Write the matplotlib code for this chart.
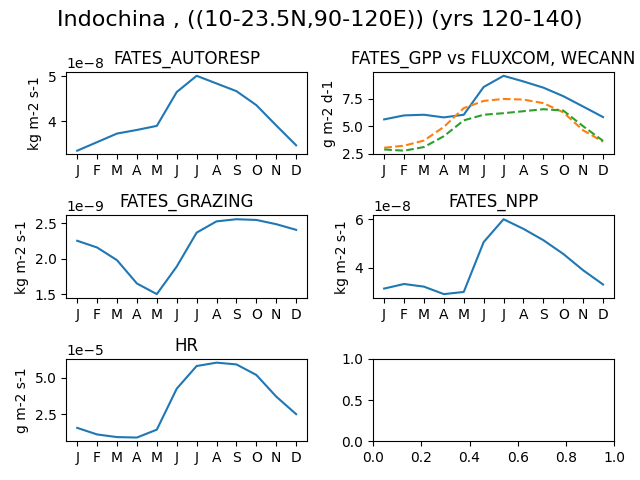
import matplotlib
matplotlib.use("Agg")
import matplotlib.pyplot as plt
import numpy as np

months = ["J", "F", "M", "A", "M", "J", "J", "A", "S", "O", "N", "D"]

# 月平均值
autoresp = np.array([3.35, 3.54, 3.73, 3.81, 3.90, 4.65, 5.01, 4.84, 4.67, 4.36, 3.91, 3.47]) * 1e-8
gpp_fates = [5.62, 5.98, 6.04, 5.80, 6.04, 8.55, 9.56, 9.05, 8.49, 7.72, 6.78, 5.83]
gpp_fluxcom = [3.06, 3.24, 3.71, 4.94, 6.64, 7.29, 7.47, 7.41, 7.09, 6.26, 4.63, 3.60]
gpp_wecann = [2.90, 2.79, 3.12, 4.10, 5.53, 6.04, 6.18, 6.36, 6.54, 6.42, 5.00, 3.68]
grazing = np.array([2.255, 2.16, 1.98, 1.65, 1.50, 1.89, 2.37, 2.53, 2.56, 2.55, 2.49, 2.41]) * 1e-9
npp = np.array([3.13, 3.32, 3.21, 2.90, 2.99, 5.06, 6.01, 5.61, 5.14, 4.57, 3.89, 3.30]) * 1e-8
hr = np.array([1.58, 1.13, 0.95, 0.92, 1.46, 4.26, 5.81, 6.04, 5.92, 5.20, 3.72, 2.52]) * 1e-5

x = np.arange(12)

fig, axes = plt.subplots(3, 2, figsize=(6.4, 4.8))
fig.suptitle("Indochina , ((10-23.5N,90-120E)) (yrs 120-140)", fontsize=16)

panels = [
    (axes[0, 0], "FATES_AUTORESP", "kg m-2 s-1", autoresp),
    (axes[1, 0], "FATES_GRAZING", "kg m-2 s-1", grazing),
    (axes[1, 1], "FATES_NPP", "kg m-2 s-1", npp),
    (axes[2, 0], "HR", "g m-2 s-1", hr),
]
for ax, title, unit, vals in panels:
    ax.plot(x, vals)
    ax.set_title(title)
    ax.set_ylabel(unit)
    ax.set_xticks(x)
    ax.set_xticklabels(months)

# GPP 与观测数据对比
ax = axes[0, 1]
ax.plot(x, gpp_fates)
ax.plot(x, gpp_fluxcom, linestyle="--")
ax.plot(x, gpp_wecann, linestyle="--")
ax.set_title("FATES_GPP vs FLUXCOM, WECANN")
ax.set_ylabel("g m-2 d-1")
ax.set_xticks(x)
ax.set_xticklabels(months)

plt.tight_layout()
plt.savefig("out.png", dpi=100)
